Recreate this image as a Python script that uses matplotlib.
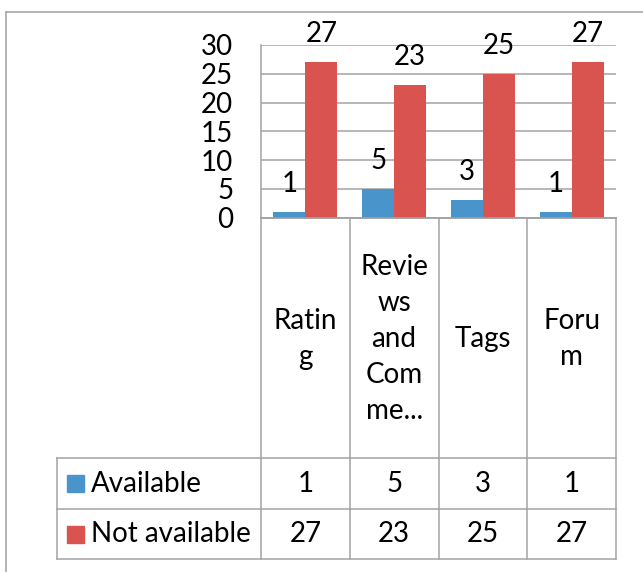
import matplotlib
matplotlib.use("Agg")
import matplotlib.pyplot as plt
from matplotlib.lines import Line2D
from matplotlib.patches import Rectangle

# ---- data -------------------------------------------------------------
categories = ["Rating", "Reviews and Comments", "Tags", "Forum"]
category_labels = ["Ratin\ng", "Revie\nws\nand\nCom\nme...", "Tags", "Foru\nm"]
series_names = ["Available", "Not available"]
available = [1, 5, 3, 1]
not_available = [27, 23, 25, 27]
y_ticks = [0, 5, 10, 15, 20, 25, 30]

# ---- style ------------------------------------------------------------
W, H, DPI = 643, 572, 100
BLUE = "#4A94CC"
RED = "#D9544F"
GRID = "#A3A3A3"
FONT = ["Lato", "DejaVu Sans"]
FS = 20

plt.rcParams["font.family"] = FONT

fig = plt.figure(figsize=(W / DPI, H / DPI), dpi=DPI)


def fx(px):
    return px / W


def fy(py):
    return 1 - py / H


# outer chart border (left and top edges)
fig.add_artist(Line2D([fx(6), fx(6)], [fy(12), 0], transform=fig.transFigure,
                      color="#A8A8A8", lw=1.2))
fig.add_artist(Line2D([fx(6), 1], [fy(12), fy(12)], transform=fig.transFigure,
                      color="#A8A8A8", lw=1.2))

# ---- bar chart --------------------------------------------------------
left, right, top, bottom = 261, 616, 45, 217.7
ax = fig.add_axes([fx(left), fy(bottom), fx(right - left), (bottom - top) / H])
ax.set_xlim(-0.5, len(categories) - 0.5)
ax.set_ylim(0, 30)
ax.set_yticks(y_ticks)
ax.set_xticks([])
ax.tick_params(axis="y", length=0, pad=20, labelsize=FS)
ax.grid(axis="y", color=GRID, lw=1.1)
ax.set_axisbelow(True)
for s in ["top", "right"]:
    ax.spines[s].set_visible(False)
for s in ["left", "bottom"]:
    ax.spines[s].set_color(GRID)
    ax.spines[s].set_linewidth(1.1)

bw = 0.36
xs = list(range(len(categories)))
b1 = ax.bar([x - bw / 2 for x in xs], available, width=bw, color=BLUE, zorder=3)
b2 = ax.bar([x + bw / 2 for x in xs], not_available, width=bw, color=RED, zorder=3)
for bars, vals in ((b1, available), (b2, not_available)):
    for rect, v in zip(bars, vals):
        ax.annotate(str(v), (rect.get_x() + rect.get_width() / 2, v),
                    xytext=(0, 28), textcoords="offset pixels",
                    ha="center", va="center", fontsize=FS, color="black",
                    annotation_clip=False)

# ---- data table -------------------------------------------------------
t_left, t_right = 57, 616
head_top, head_bot, row1_bot, row2_bot = 218, 458.3, 509.3, 559.3
col_px = (right - left) / len(categories)
x_left = -0.5 - (left - t_left) / col_px

tax = fig.add_axes([fx(t_left), fy(row2_bot), fx(t_right - t_left),
                    (row2_bot - head_top) / H])
tax.set_xlim(x_left, len(categories) - 0.5)
tax.set_ylim(row2_bot, head_top)
tax.axis("off")

lk = dict(color=GRID, lw=1.1, clip_on=False)
n = len(categories)
tax.plot([-0.5, n - 0.5], [head_top, head_top], **lk)
for yy in (head_bot, row1_bot, row2_bot):
    tax.plot([x_left, n - 0.5], [yy, yy], **lk)
for i in range(n + 1):
    tax.plot([i - 0.5, i - 0.5], [head_top, row2_bot], **lk)
tax.plot([x_left, x_left], [head_bot, row2_bot], **lk)

head_mid = (head_top + head_bot) / 2 + 1
for i, lab in enumerate(category_labels):
    tax.text(i, head_mid, lab, ha="center", va="center", fontsize=FS,
             linespacing=1.48)

rows = [(available, BLUE, (head_bot + row1_bot) / 2),
        (not_available, RED, (row1_bot + row2_bot) / 2)]
for name, (vals, col, ymid) in zip(series_names, rows):
    sq = 17
    tax.add_patch(Rectangle((x_left + 10 / col_px, ymid - sq / 2), sq / col_px, sq,
                            color=col, clip_on=False))
    tax.text(x_left + 34 / col_px, ymid, name, ha="left", va="center", fontsize=FS)
    for i, v in enumerate(vals):
        tax.text(i, ymid, str(v), ha="center", va="center", fontsize=FS)

fig.savefig("out.png", dpi=DPI)
